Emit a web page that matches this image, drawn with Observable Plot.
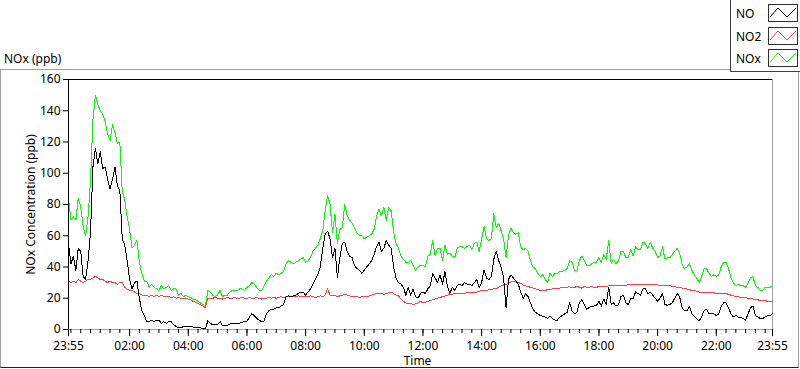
<!DOCTYPE html>
<html>
<head>
<meta charset="utf-8">
<script src="https://cdn.jsdelivr.net/npm/d3@7"></script>
<script src="https://cdn.jsdelivr.net/npm/@observablehq/plot@0.6"></script>
<style>
  html, body { margin: 0; padding: 0; background: #fff; }
  #wrap { position: relative; width: 800px; height: 369px; overflow: hidden;
          font-family: "Noto Sans", sans-serif; font-size: 12px; color: #000; }
  #frame { position: absolute; left: 0; top: 69px; width: 797px; height: 297px;
           border: 1px solid #a0a0a0; border-bottom-color: #202020; }
  #title { position: absolute; left: 4px; top: 52px; line-height: 14px; white-space: nowrap; }
  #legend { position: absolute; left: 730px; top: 0; width: 70px; height: 72px; box-sizing: border-box;
            background: #fff; border-left: 1px solid #404040; border-bottom: 1px solid #404040; }
  .lg-text { position: absolute; left: 5px; line-height: 14px; }
  .lg-box { position: absolute; left: 37px; width: 28px; height: 16px; border: 1px solid #303030; background: #fff; }
  .lg-box svg { display: block; }
  #chart { position: absolute; left: 0; top: 0; }
</style>
</head>
<body>
<div id="wrap">
  <div id="frame"></div>
  <div id="title"></div>
  <div id="chart"></div>
  <div id="legend"></div>
</div>
<script>
// ---------- data (5-minute steps from 23:55) ----------
const titleText = "NOx (ppb)";
const yLabel = "NOx Concentration (ppb)";
const xLabel = "Time";
const startTime = "23:55";
const stepMinutes = 5;
const seriesNames = ["NO", "NO2", "NOx"];
const seriesColors = ["#000000", "#ff4040", "#00ff00"];
const yTicks = [0, 20, 40, 60, 80, 100, 120, 140, 160];
const xTickLabels = ["23:55", "02:00", "04:00", "06:00", "08:00", "10:00", "12:00",
                     "14:00", "16:00", "18:00", "20:00", "22:00", "23:55"];

const NO = [
  55,42,47,38,52,50,34,32,44,62,104,116,
  106,114,103,104,96,90,96,104,92,89,58,54,
  44,32,26,30,31,20,12,9,5,5,6,5,
  6,6,4,5,4,5,5,3,2,1,1,2,
  2,2,2,1.5,1.2,1,1,0.5,0.5,5.5,4,3,
  3,3,5,2.5,2.2,2.5,3.5,3.6,3.6,3.8,4,4.5,
  5.3,5.3,7.9,10,9,7,6,5,5.5,10,12,13,
  13,14,14,15,16,21,21.5,21,21.5,22,23,24,
  24,22,24,26,29,32,35,40,52,61,63,58,
  46,52,33,46,55,56,50,47,46,41,39,38,
  36,38,40,42,44,48,53,56,50,52,57,54,
  52,40,33,30,29,27,22,27,22,26,21,20,
  23,24,23,26,28,36,33,30,35,29,37,28,
  23,27,25,28,29,28,30,29,29,28,30,32,
  27,30,38,33,32,34,45,50,44,40,33,14,
  32,35,33,31,29,24,20,23,21,17,13,11,
  10,9,8.5,8,7,8.5,7,6,6,8,9,10,
  11,17,12,10,11,17,19,16,13,14,15,15,
  15.5,18,15,19.5,16,27,16,17,15,16,21,22,
  17,16,20,20,24,23,22,26,26,23,24,22,
  20,18,20,23,16,15.5,16,17,20,23,21,14,
  12,12,15,10,8.5,7,5.5,8,12,13,10,10,
  10,9,10,15,17,17,14,10,8,9,8,8,
  7,6,10,14,15,9,8,7,7,8,9,9,
  10
];

const NO2 = [
  31,30,31,30,32,31,30,31,32,32,33,34,
  33,32,32,31,30,31,30,30,29,30,30,27,
  26,25,25,24,23,23,22,22,22,21,22,21,
  22,21,22,21,21,21,20.5,21,20,20.5,20,20,
  20,19.5,19,18,17.5,16.5,16,15,14,20,20,20,
  20.5,20,20,19.5,20,20.5,20,20,20.5,20,20,20.5,
  20,20,20.5,20,20,20.5,20,19.5,20,20,20.5,20,
  20.5,20,20.5,21,20.5,21,21,21.5,21,21,21.5,21,
  21,21,21,21.5,21,20.5,21,21.5,21,22,26,22,
  21.5,22,21,21.5,22,22.5,22,21.5,21,21,21,20.5,
  21,21,21,21.5,22,22.5,23,23,23,22.5,23,23.5,
  24,23,22,21.5,19.5,18,17,16.5,16.5,16,16.5,17,
  18,17,17.5,18,18.5,19,19.5,20,20.5,21,21.5,22,
  22.5,22.5,23,23,23,23,23,23.5,23.5,23.5,24,24,
  24.5,25,25,25,25.5,25.5,26,26,27,28,28.5,29,
  29.5,30.5,31,30.5,30,29.5,28.5,28,27.5,27,26.5,26,
  25.5,25,25,25,25.5,25.5,26,26,26.5,26.5,27,27,
  27,27.5,26.5,27,27.5,27,26.5,27.5,27,27,27.5,27,
  27,27.5,27.5,27.5,27.5,28,28,28,28,28,28,28,
  28,29,29,29,29,29,29,29,29,29,29,29,
  29,28.5,28,28,28,28,28,27.5,27.5,27,27,26.5,
  26,26,25.5,25,25,24.5,24,24,24,24,23.5,23.5,
  23.5,23,23,23,23,23,22.5,22,21.5,21,21,20.5,
  20.5,20.5,20,20,19.5,19.5,19,18.5,18.5,18.5,18,18,
  18
];

const NOx = [
  84,70,72,70,84,79,66,60,72,95,134,150,
  144,140,138,133,125,121,131,126,119,120,88,83,
  72,64,52,54,57,43,36,31,31,27,29,27,
  26,25,28,26,27,28,25,26,26,22,23,21,
  22,21,20.5,19.5,19,18,17,16,15,25,24,22,
  21,22,25,21,22,22,24,25,25,25,26,26,
  25,27,28,30,29,27,25,25,28,31,33,35,
  34,36,35,36,37,42,44,43,42,43,44,45,
  46,43,44,46,50,52,54,58,63,76,86,80,
  62,74,55,64,65,80,73,70,68,65,62,60,
  60,58,59,60,61,64,72,77,73,78,70,78,
  76,62,55,52,47,45,43,43,44,41,38,40,
  41,41,40,47,48,57,47,52,52,44,54,48,
  49,47,46,52,53,53,52,53,54,51,55,56,
  50,58,66,58,57,58,74,65,68,63,58,46,
  60,65,62,61,62,53,51,52,50,44,40,39,
  36,34,35,32,30,36,34,36,36,37,37,38,
  39,44,43,38,38,44,47,44,41,41,42,43,
  43,46,43,48,45,57,42,45,42,44,50,50,
  46,46,51,47,53,51,51,56,55,52,56,52,
  50,46,47,53,45,46,46,48,50,52,49,42,
  39,40,42,38,35,33,30,34,39,39,36,34,
  35,34,35,40,43,43,39,33,30,28,29,28,
  28,27,30,33,34,28,27,25,25,27,27,27,
  28
];

// ---------- build table ----------
const [sh, sm] = startTime.split(":").map(Number);
const t0 = new Date(Date.UTC(2020, 0, 1, sh, sm));
const t1 = new Date(+t0 + 1440 * 60000);
const timeAt = i => new Date(+t0 + i * stepMinutes * 60000);
const seriesValues = [NO, NO2, NOx];
const tables = seriesValues.map(vals => vals.map((v, i) => ({time: timeAt(i), value: v})));

const majorTicks = xTickLabels.map((lab, i) => {
  if (i === xTickLabels.length - 1) return t1;
  const [h, m] = lab.split(":").map(Number);
  const mins = ((h * 60 + m) - (sh * 60 + sm) + 1440) % 1440;
  return new Date(+t0 + mins * 60000);
});
const minorTicks = d3.utcMinute.every(20).range(t0, t1);
const fmt = d3.utcFormat("%H:%M");

// ---------- chart ----------
const drawOrder = [2, 1, 0];
const chart = Plot.plot({
  width: 800,
  height: 369,
  marginLeft: 68,
  marginRight: 28,
  marginTop: 79,
  marginBottom: 40,
  style: {fontFamily: '"Noto Sans", sans-serif', fontSize: "12px", color: "#000", background: "transparent", overflow: "visible"},
  x: {type: "utc", domain: [t0, t1]},
  y: {domain: [0, 160]},
  marks: [
    Plot.ruleY([0], {stroke: "#a0a0a0"}),
    Plot.ruleX([t1], {stroke: "#a0a0a0"}),
    ...drawOrder.map(k => Plot.line(tables[k], {
      x: "time", y: "value", stroke: seriesColors[k], strokeWidth: 1, shapeRendering: "crispEdges"
    })),
    Plot.ruleY([160], {stroke: "#000"}),
    Plot.ruleX([t0], {stroke: "#000"}),
    Plot.axisY({ticks: yTicks, tickSize: 5, tickPadding: 3, label: null, stroke: "#000"}),
    Plot.axisX({ticks: minorTicks, tickSize: 4, tickFormat: () => "", label: null}),
    Plot.axisX({ticks: majorTicks, tickSize: 7, tickPadding: 5, tickFormat: fmt, label: null}),
    Plot.text([yLabel], {frameAnchor: "left", textAnchor: "middle", lineAnchor: "middle", rotate: -90, dx: -37, fill: "#000"}),
    Plot.text([xLabel], {frameAnchor: "bottom", textAnchor: "middle", lineAnchor: "middle", dx: -3, dy: 32, fill: "#000"})
  ]
});
document.getElementById("chart").appendChild(chart);

// ---------- title & legend ----------
document.getElementById("title").textContent = titleText;
const legend = document.getElementById("legend");
const lgTops = [4, 27, 49];
seriesNames.forEach((name, i) => {
  const t = document.createElement("div");
  t.className = "lg-text";
  t.style.top = (lgTops[i] + 3) + "px";
  t.textContent = name;
  legend.appendChild(t);
  const b = document.createElement("div");
  b.className = "lg-box";
  b.style.top = lgTops[i] + "px";
  b.innerHTML = `<svg width="28" height="16"><polyline points="1,12 9,3 18,12 27,3" fill="none" stroke="${seriesColors[i]}" stroke-width="1"/></svg>`;
  legend.appendChild(b);
});
</script>
</body>
</html>
